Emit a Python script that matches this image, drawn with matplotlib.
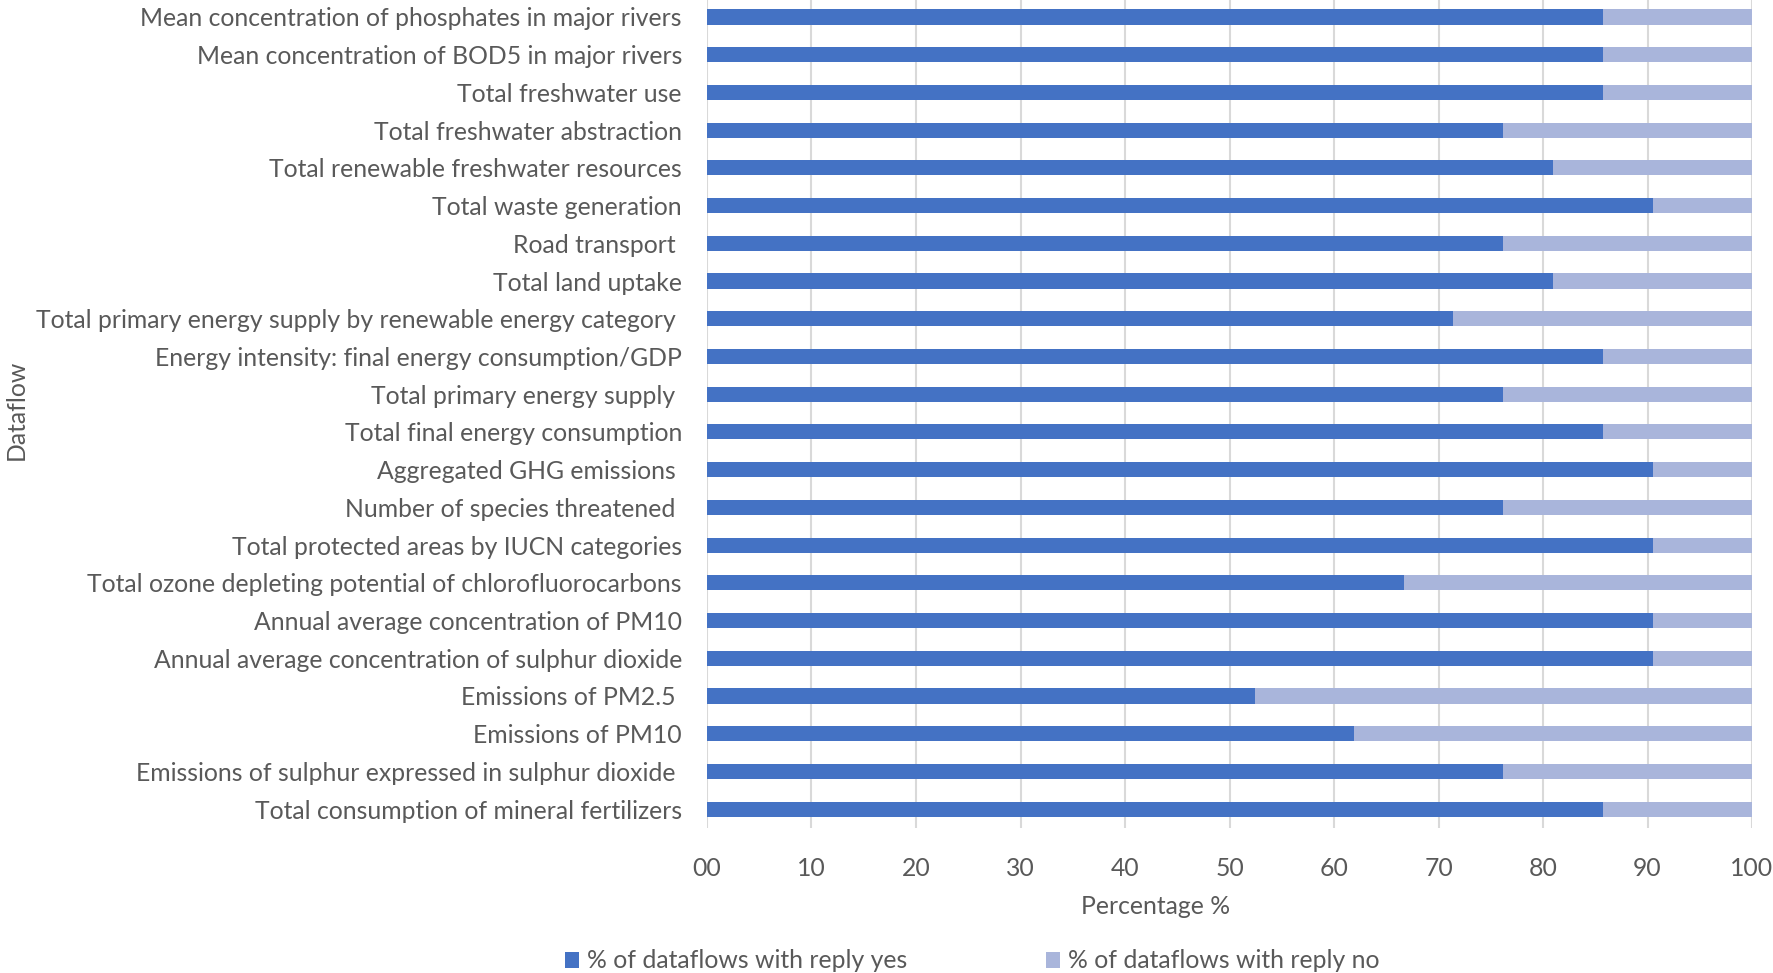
import numpy as np
import matplotlib.pyplot as plt

plt.rcParams['font.family'] = ['Lato', 'DejaVu Sans']

# dataflows, listed bottom to top
dataflows = [
    "Total consumption of mineral fertilizers",
    "Emissions of sulphur expressed in sulphur dioxide ",
    "Emissions of PM10",
    "Emissions of PM2.5 ",
    "Annual average concentration of sulphur dioxide",
    "Annual average concentration of PM10",
    "Total ozone depleting potential of chlorofluorocarbons",
    "Total protected areas by IUCN categories",
    "Number of species threatened ",
    "Aggregated GHG emissions ",
    "Total final energy consumption",
    "Total primary energy supply ",
    "Energy intensity: final energy consumption/GDP",
    "Total primary energy supply by renewable energy category ",
    "Total land uptake",
    "Road transport ",
    "Total waste generation",
    "Total renewable freshwater resources",
    "Total freshwater abstraction",
    "Total freshwater use",
    "Mean concentration of BOD5 in major rivers",
    "Mean concentration of phosphates in major rivers",
]

# percentage of the 21 replies that answered yes
yes_pct = [85.7, 76.2, 61.9, 52.4, 90.5, 90.5, 66.7, 90.5, 76.2, 90.5, 85.7,
           76.2, 85.7, 71.4, 81.0, 76.2, 90.5, 81.0, 76.2, 85.7, 85.7, 85.7]
no_pct = [round(100 - v, 1) for v in yes_pct]

xticks = [0, 10, 20, 30, 40, 50, 60, 70, 80, 90, 100]
xtick_labels = ["00", "10", "20", "30", "40", "50", "60", "70", "80", "90", "100"]

text_col = "#595959"
fs = 17.8
fig = plt.figure(figsize=(17.74, 9.73), dpi=100)
ax = fig.add_axes([707 / 1774, 1 - 828 / 973, (1752 - 707) / 1774, 828 / 973])

y = np.arange(len(dataflows))
ax.barh(y, yes_pct, height=0.4, color="#4472C4", label="% of dataflows with reply yes", zorder=3)
ax.barh(y, no_pct, left=yes_pct, height=0.4, color="#A9B5DB",
        label="% of dataflows with reply no", zorder=3)

ax.set_xlim(0, 100)
ax.set_ylim(-0.5, len(dataflows) - 0.55)
ax.set_xticks(xticks)
ax.set_xticklabels(xtick_labels)
ax.set_yticks(y)
ax.set_yticklabels(dataflows)
ax.tick_params(axis="both", length=0, labelsize=fs, colors=text_col)
ax.tick_params(axis="x", pad=21)
ax.tick_params(axis="y", pad=18)
ax.xaxis.grid(True, color="#d9d9d9", linewidth=1.5, zorder=0)
for s in ax.spines.values():
    s.set_visible(False)

ax.set_xlabel("Percentage %", fontsize=fs, color=text_col)
ax.xaxis.set_label_coords(0.429, -0.081)
fig.text(16 / 1774, 1 - 410 / 973, "Dataflow", rotation=90, fontsize=fs,
         color=text_col, ha="center", va="center")

fig.legend(loc="center", bbox_to_anchor=(972 / 1774, 1 - 961 / 973), ncol=2,
           frameon=False, fontsize=fs, handlelength=0.6, handleheight=0.6,
           handletextpad=0.3, columnspacing=5.6, labelcolor=text_col)

fig.savefig("out.png", dpi=100)
